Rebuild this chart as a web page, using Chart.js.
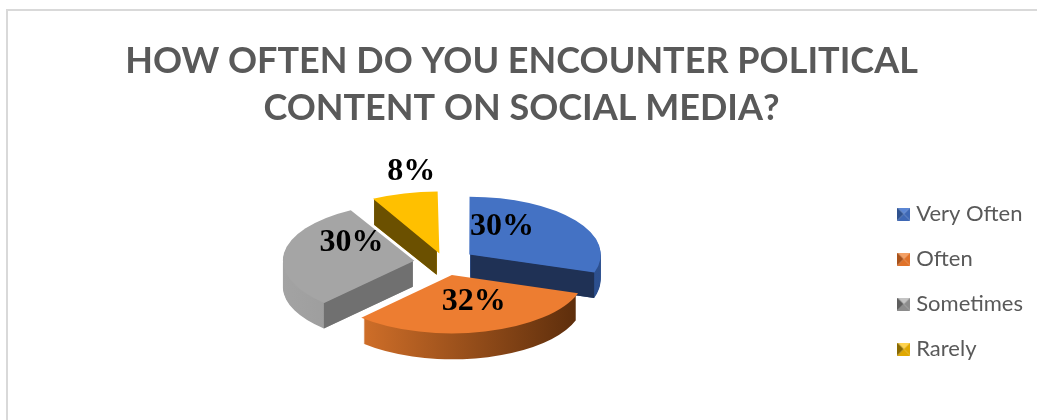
<!DOCTYPE html>
<html>
<head>
<meta charset="utf-8">
<script src="https://cdn.jsdelivr.net/npm/chart.js@4.4.1/dist/chart.umd.min.js"></script>
<style>
  html, body { margin: 0; padding: 0; background: #fff; }
  #wrap { position: relative; width: 1037px; height: 420px; overflow: hidden; }
  #frame { position: absolute; left: 6px; top: 9px; width: 1100px; height: 500px; border: 2px solid #d9d9d9; box-sizing: border-box; }
  canvas { position: absolute; left: 0; top: 0; }
</style>
</head>
<body>
<div id="wrap">
  <div id="frame"></div>
  <canvas id="myChart" width="1037" height="420"></canvas>
</div>
<script>
const categories = ["Very Often", "Often", "Sometimes", "Rarely"];
const shares = [30, 32, 30, 8];
const titleLines = ["HOW OFTEN DO YOU ENCOUNTER POLITICAL", "CONTENT ON SOCIAL MEDIA?"];

const topColors = ["#4472c4", "#ed7d31", "#a5a5a5", "#ffc000"];
const rimColors = [["#4169b4", "#2c4f8e"], ["#e47a2e", "#5a2c0b"], ["#a3a3a3", "#858585"], ["#d9a300", "#7a5c00"]];
const cutColors = ["#1f3155", "#5c2e0e", "#707070", "#6b5000"];
const markerShades = [["#5b86d4", "#2f528f", "#3e68b5"], ["#f4a064", "#a9521a", "#e07229"], ["#c4c4c4", "#5e5e5e", "#8c8c8c"], ["#ffd34d", "#8a6a00", "#e0a800"]];

const TILT = 0.44;    // vertical squash of the pie
const DEPTH = 26;     // thickness of the slices in px
const EXPLODE = 32;   // how far each slice is pulled out

Chart.defaults.font.family = "Lato";

// small bevelled squares for the legend
function bevelMarker(i) {
  const [light, dark, base] = markerShades[i];
  const c = document.createElement("canvas");
  c.width = 13; c.height = 13;
  const g = c.getContext("2d");
  const s = 13, m = 6.5;
  const tri = (pts, col) => {
    g.beginPath();
    g.moveTo(pts[0][0], pts[0][1]);
    g.lineTo(pts[1][0], pts[1][1]);
    g.lineTo(m, m);
    g.closePath();
    g.fillStyle = col;
    g.fill();
  };
  tri([[0, 0], [s, 0]], light);
  tri([[0, s], [s, s]], base);
  tri([[s, 0], [s, s]], base);
  tri([[0, 0], [0, s]], dark);
  return c;
}
const markers = categories.map((_, i) => bevelMarker(i));

const total = shares.reduce((a, b) => a + b, 0);

// chart.js scales the arc offset by the slice size, undo that so all slices move the same
const explodeOffset = (c) => {
  const circ = (c.raw / total) * 2 * Math.PI;
  const fix = 1 - Math.sin(Math.min(Math.PI, circ));
  return (4 * EXPLODE) / (1 + fix);
};

function shiftOf(arc) {
  const off = (arc.options.offset || 0) / 4;
  const fix = 1 - Math.sin(Math.min(Math.PI, arc.endAngle - arc.startAngle));
  return off + off * fix;
}

function centerY(chart) {
  return (chart.chartArea.top + chart.chartArea.bottom) / 2;
}

function tilt(ctx, chart) {
  const cy = centerY(chart);
  ctx.translate(0, cy);
  ctx.scale(1, TILT);
  ctx.translate(0, -cy);
}

function toScreen(chart, x, y) {
  const cy = centerY(chart);
  return [x, cy + (y - cy) * TILT];
}

function sliceApex(arc) {
  const mid = (arc.startAngle + arc.endAngle) / 2;
  const d = shiftOf(arc);
  return [arc.x + Math.cos(mid) * d, arc.y + Math.sin(mid) * d];
}

const pie3d = {
  id: "pie3d",
  beforeDatasetsDraw(chart) {
    const ctx = chart.ctx;
    const arcs = chart.getDatasetMeta(0).data;
    // back slices first
    const order = arcs.map((a, i) => i).sort((a, b) => {
      const ma = (arcs[a].startAngle + arcs[a].endAngle) / 2;
      const mb = (arcs[b].startAngle + arcs[b].endAngle) / 2;
      return Math.sin(ma) - Math.sin(mb);
    });
    order.forEach((i) => {
      const arc = arcs[i];
      const [ax, ay] = sliceApex(arc);
      const R = arc.outerRadius;
      // curved side: stack of the face pushed down
      for (let d = DEPTH; d >= 1; d--) {
        ctx.save();
        ctx.translate(0, d);
        tilt(ctx, chart);
        ctx.beginPath();
        ctx.moveTo(ax, ay);
        ctx.arc(ax, ay, R, arc.startAngle, arc.endAngle);
        ctx.closePath();
        const grad = ctx.createLinearGradient(ax - R, 0, ax + R, 0);
        grad.addColorStop(0, rimColors[i][0]);
        grad.addColorStop(1, rimColors[i][1]);
        ctx.fillStyle = grad;
        ctx.fill();
        ctx.restore();
      }
      // flat cut faces that look towards the viewer
      const edges = [];
      if (Math.sin(arc.startAngle - Math.PI / 2) > 0.01) edges.push(arc.startAngle);
      if (Math.cos(arc.endAngle) > 0.01) edges.push(arc.endAngle);
      edges.forEach((a) => {
        const p0 = toScreen(chart, ax, ay);
        const p1 = toScreen(chart, ax + Math.cos(a) * R, ay + Math.sin(a) * R);
        ctx.beginPath();
        ctx.moveTo(p0[0], p0[1]);
        ctx.lineTo(p1[0], p1[1]);
        ctx.lineTo(p1[0], p1[1] + DEPTH);
        ctx.lineTo(p0[0], p0[1] + DEPTH);
        ctx.closePath();
        ctx.fillStyle = cutColors[i];
        ctx.fill();
      });
    });
    // top faces are drawn by chart.js in the tilted space
    ctx.save();
    tilt(ctx, chart);
  },
  afterDatasetsDraw(chart, args, opts) {
    const ctx = chart.ctx;
    ctx.restore();
    const arcs = chart.getDatasetMeta(0).data;
    ctx.save();
    ctx.font = "bold 32px 'Liberation Serif', 'Times New Roman', serif";
    ctx.fillStyle = "#000";
    ctx.textAlign = "center";
    ctx.textBaseline = "middle";
    arcs.forEach((arc, i) => {
      const mid = (arc.startAngle + arc.endAngle) / 2;
      const [ax, ay] = sliceApex(arc);
      const small = arc.endAngle - arc.startAngle < 0.6;
      const r = arc.outerRadius * (small ? 1.25 : 0.5);
      const [sx, sy] = toScreen(chart, ax + Math.cos(mid) * r, ay + Math.sin(mid) * r);
      const n = opts.nudge[i];
      const pct = Math.round((shares[i] / total) * 100);
      ctx.fillText(pct + "%", sx + n[0], sy + n[1]);
    });
    ctx.restore();
  }
};

const ctx = document.getElementById("myChart").getContext("2d");
const myChart = new Chart(ctx, {
  type: "pie",
  data: {
    labels: categories,
    datasets: [
      {
        data: shares,
        backgroundColor: topColors,
        borderWidth: 0,
        offset: explodeOffset,
        radius: 130,
        clip: false,
      },
    ],
  },
  options: {
    responsive: false,
    animation: false,
    events: [],
    layout: { padding: { top: 12, left: 10, right: 4, bottom: 26.5 } },
    plugins: {
      title: {
        display: true,
        text: titleLines,
        color: "#595959",
        font: { family: "Lato", size: 36, weight: "bold", lineHeight: 47 / 36 },
        padding: { top: 25.5, bottom: 0 },
      },
      legend: {
        position: "right",
        fullSize: false,
        title: { display: true, text: " ", font: { size: 10, lineHeight: 1 }, padding: { top: 28, bottom: 0 } },
        labels: {
          usePointStyle: true,
          pointStyleWidth: 3,
          boxHeight: 13,
          padding: 23,
          color: "#595959",
          font: { family: "Lato", size: 22 },
          generateLabels: () =>
            categories.map((name, i) => ({
              text: name,
              pointStyle: markers[i],
              fillStyle: topColors[i],
              strokeStyle: topColors[i],
              lineWidth: 0,
              hidden: false,
              index: i,
              fontColor: "#595959",
            })),
        },
      },
      tooltip: { enabled: false },
      pie3d: { nudge: [[-21, -11], [5, -2], [3, -14], [15, -8]] },
    },
  },
  plugins: [pie3d],
});
</script>
</body>
</html>
